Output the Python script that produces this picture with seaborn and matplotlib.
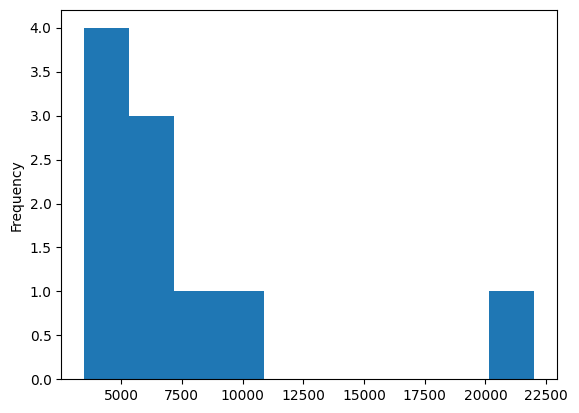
import matplotlib
matplotlib.use("Agg")
import matplotlib.pyplot as plt
import seaborn as sns
import pandas as pd

values = [3470, 4000, 4500, 5000, 5800, 6200, 6800, 8000, 10000, 22020]
df = pd.DataFrame({"value": values})

fig = plt.figure(figsize=(5.79, 4.13), dpi=100)
ax = fig.add_axes([0.106, 0.082, 0.856, 0.893])
sns.histplot(data=df, x="value", bins=10, stat="count", color="#1f77b4",
             alpha=1, edgecolor="none", linewidth=0, ax=ax)
ax.set_xlabel("")
ax.set_ylabel("Frequency")
fig.savefig("out.png", dpi=100)
